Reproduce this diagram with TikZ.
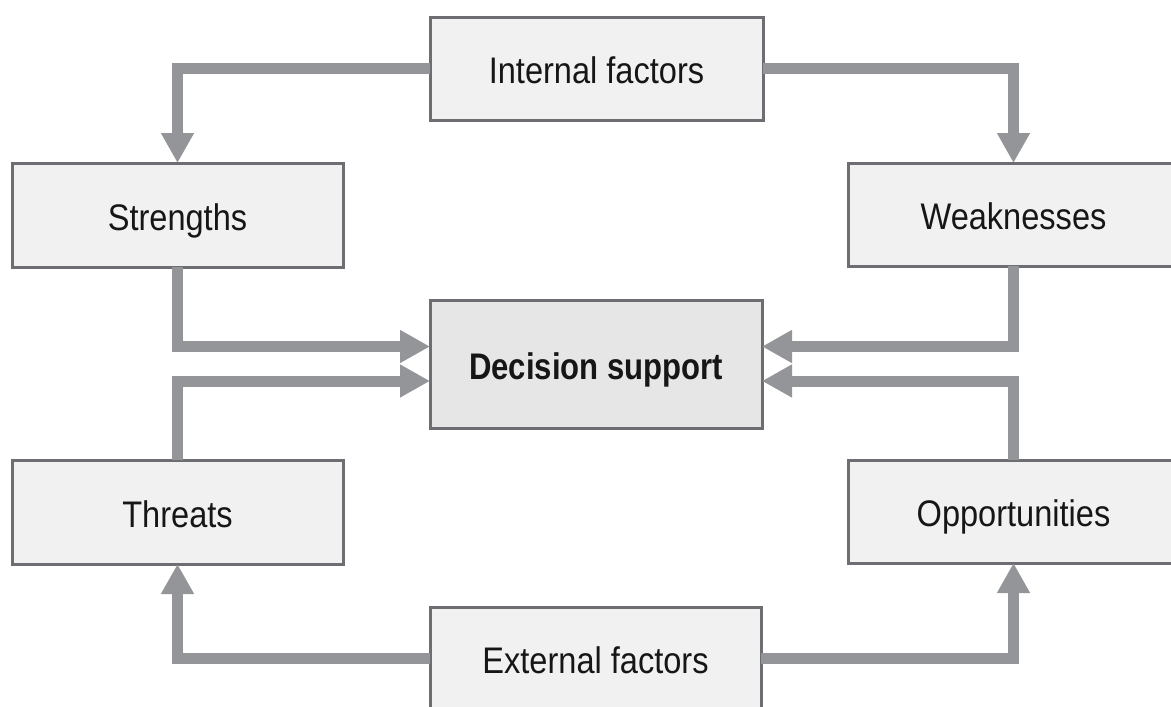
\documentclass[tikz,border=0pt]{standalone}
\usepackage{fontspec}
\setmainfont[FakeStretch=0.88]{Liberation Sans}
\newfontfamily\dsfont[FakeStretch=0.84]{Liberation Sans Bold}
\usetikzlibrary{arrows.meta}
\definecolor{boxfill}{HTML}{F1F1F1}
\definecolor{dsfill}{HTML}{E6E6E6}
\definecolor{boxline}{HTML}{6D6E71}
\definecolor{arrgray}{HTML}{939598}
\definecolor{txt}{HTML}{161616}
\begin{document}
\begin{tikzpicture}[x=1pt,y=-1pt,
  box/.style={draw=boxline,line width=3pt,fill=boxfill,rectangle,
    minimum width=331pt,minimum height=103pt,inner sep=0pt,outer sep=0pt,
    text height=30pt,text depth=0pt,
    text=txt,font=\fontsize{37}{40}\selectfont},
  dsbox/.style={box,fill=dsfill,minimum width=332pt,minimum height=128pt,
    font=\dsfont\fontsize{37}{40}\selectfont},
  arr/.style={draw=arrgray,line width=11pt,
    -{Triangle[length=30pt,width=31pt]}}]
\useasboundingbox (0,0) rectangle (1171,707);
\clip (0,0) rectangle (1171,707);
\fill[white] (0,0) rectangle (1171,707);
\node[box,minimum width=333pt] (intern) at (596.5,68.5) {Internal factors};
\node[box,minimum height=104pt] (strengths) at (177.5,215) {Strengths};
\node[box] (weak) at (1013.5,214.5) {Weaknesses};
\node[dsbox] (ds) at (596,364) {Decision support};
\node[box,minimum height=104pt] (threats) at (177.5,512) {Threats};
\node[box] (opp) at (1013.5,511.5) {Opportunities};
\node[box] (extern) at (595.5,658.5) {External factors};
\draw[arr] (intern.west) -| (strengths.north);
\draw[arr] (intern.east) -| (weak.north);
\draw[arr] (strengths.south) |- ([yshift=17.5pt]ds.west);
\draw[arr] (threats.north) |- ([yshift=-17pt]ds.west);
\draw[arr] (weak.south) |- ([yshift=17.5pt]ds.east);
\draw[arr] (opp.north) |- ([yshift=-17pt]ds.east);
\draw[arr] (extern.west) -| (threats.south);
\draw[arr] (extern.east) -| (opp.south);
\end{tikzpicture}
\end{document}
